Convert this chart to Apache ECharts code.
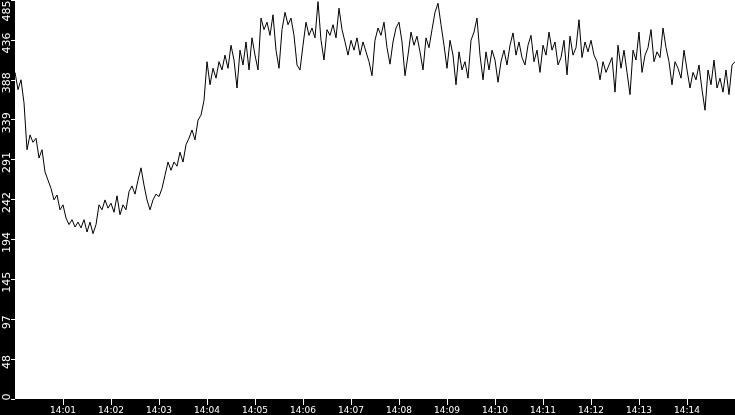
<!DOCTYPE html>
<html>
<head>
<meta charset="utf-8">
<script src="https://cdn.jsdelivr.net/npm/echarts@6/dist/echarts.min.js"></script>
<style>
html,body{margin:0;padding:0;background:#000;}
#chart{width:735px;height:415px;}
</style>
</head>
<body>
<div id="chart"></div>
<script>
// Time axis: samples start at 14:00:00, one every 3.75 s, ending 14:15:00
const startHour = 14;
const sampleStepSeconds = 3.75;
const xTickLabels = ['14:01','14:02','14:03','14:04','14:05','14:06','14:07','14:08','14:09','14:10','14:11','14:12','14:13','14:14'];
const yMax = 485;
const yTickCount = 10;

const values = [
397,376,388,360,303,321,312,317,293,303,276,266,256,242,248,230,236,220,212,218,209,215,208,218,203,215,201,212,
236,230,242,232,238,227,247,224,236,230,
252,259,249,266,281,260,242,230,242,249,
246,256,272,288,278,288,283,300,288,309,
317,327,315,339,345,363,410,382,402,390,
410,400,418,402,430,412,378,424,406,434,
400,439,418,400,463,449,458,442,467,424,
402,449,470,455,463,442,406,400,430,458,
442,451,439,483,436,412,449,442,455,439,
475,449,434,418,436,424,439,418,434,422,
410,393,436,451,442,458,427,407,434,451,
458,434,393,418,446,430,441,422,400,439,
427,449,470,481,455,430,402,436,418,382,
422,400,410,390,436,446,463,418,388,422,
400,424,412,385,410,424,406,430,445,418,
434,415,406,430,442,410,424,397,430,418,
446,424,434,406,415,436,394,441,418,427,
461,415,434,422,436,418,410,388,410,397,
406,415,373,430,402,424,397,370,424,412,
446,397,418,427,449,410,422,415,451,427,
410,382,410,402,390,424,400,378,397,388,
406,376,351,400,382,412,378,390,373,400,
370,406,410
];

const seriesData = values.map((v, i) => [i * sampleStepSeconds, v]);
const xTickValues = xTickLabels.map(l => {
  const [h, m] = l.split(':').map(Number);
  return ((h - startHour) * 60 + m) * 60;
});
const xMax = (values.length - 1) * sampleStepSeconds;

const yLabelFont = {color: '#fff', fontFamily: 'DejaVu Sans', fontSize: 11};

const chart = echarts.init(document.getElementById('chart'), null, {renderer: 'canvas'});
chart.setOption({
  backgroundColor: '#000',
  animation: false,
  grid: {
    left: 15, right: 0, top: 0, bottom: 16,
    show: true, backgroundColor: '#fff', borderWidth: 0,
    containLabel: false,
    outerBoundsMode: 'none'
  },
  xAxis: {
    type: 'value',
    min: 0,
    max: xMax,
    interval: 60,
    splitLine: {show: false},
    axisLine: {show: false},
    axisTick: {
      show: true, length: 6, lineStyle: {color: '#fff', width: 1},
      customValues: xTickValues
    },
    axisLabel: {
      color: '#fff',
      fontFamily: 'DejaVu Sans',
      fontSize: 9,
      lineHeight: 9,
      margin: 7,
      customValues: xTickValues,
      formatter: v => {
        const idx = xTickValues.indexOf(v);
        return idx >= 0 ? xTickLabels[idx] : '';
      }
    }
  },
  yAxis: {
    type: 'value',
    min: 0,
    max: yMax,
    interval: yMax / yTickCount,
    splitLine: {show: false},
    axisLine: {show: false},
    axisTick: {show: true, length: 4, lineStyle: {color: '#fff', width: 1}},
    axisLabel: {
      color: '#fff',
      fontFamily: 'DejaVu Sans',
      fontSize: 11,
      rotate: 90,
      margin: 2,
      formatter: v => {
        const t = String(Math.floor(v + 1e-9));
        if (v === 0) return '{zero|' + t + '}';
        if (Math.abs(v - yMax) < 1e-6) return '{top|' + t + '}';
        return '{n|' + t + '}';
      },
      rich: {
        n: Object.assign({padding: [0, 6, 0, 0]}, yLabelFont),
        top: Object.assign({padding: [0, 22, 0, 0]}, yLabelFont),
        zero: Object.assign({padding: [0, 0, 0, 4]}, yLabelFont)
      }
    }
  },
  series: [{
    type: 'line',
    data: seriesData,
    showSymbol: false,
    symbol: 'none',
    lineStyle: {color: '#000', width: 1},
    clip: true
  }]
});
</script>
</body>
</html>
